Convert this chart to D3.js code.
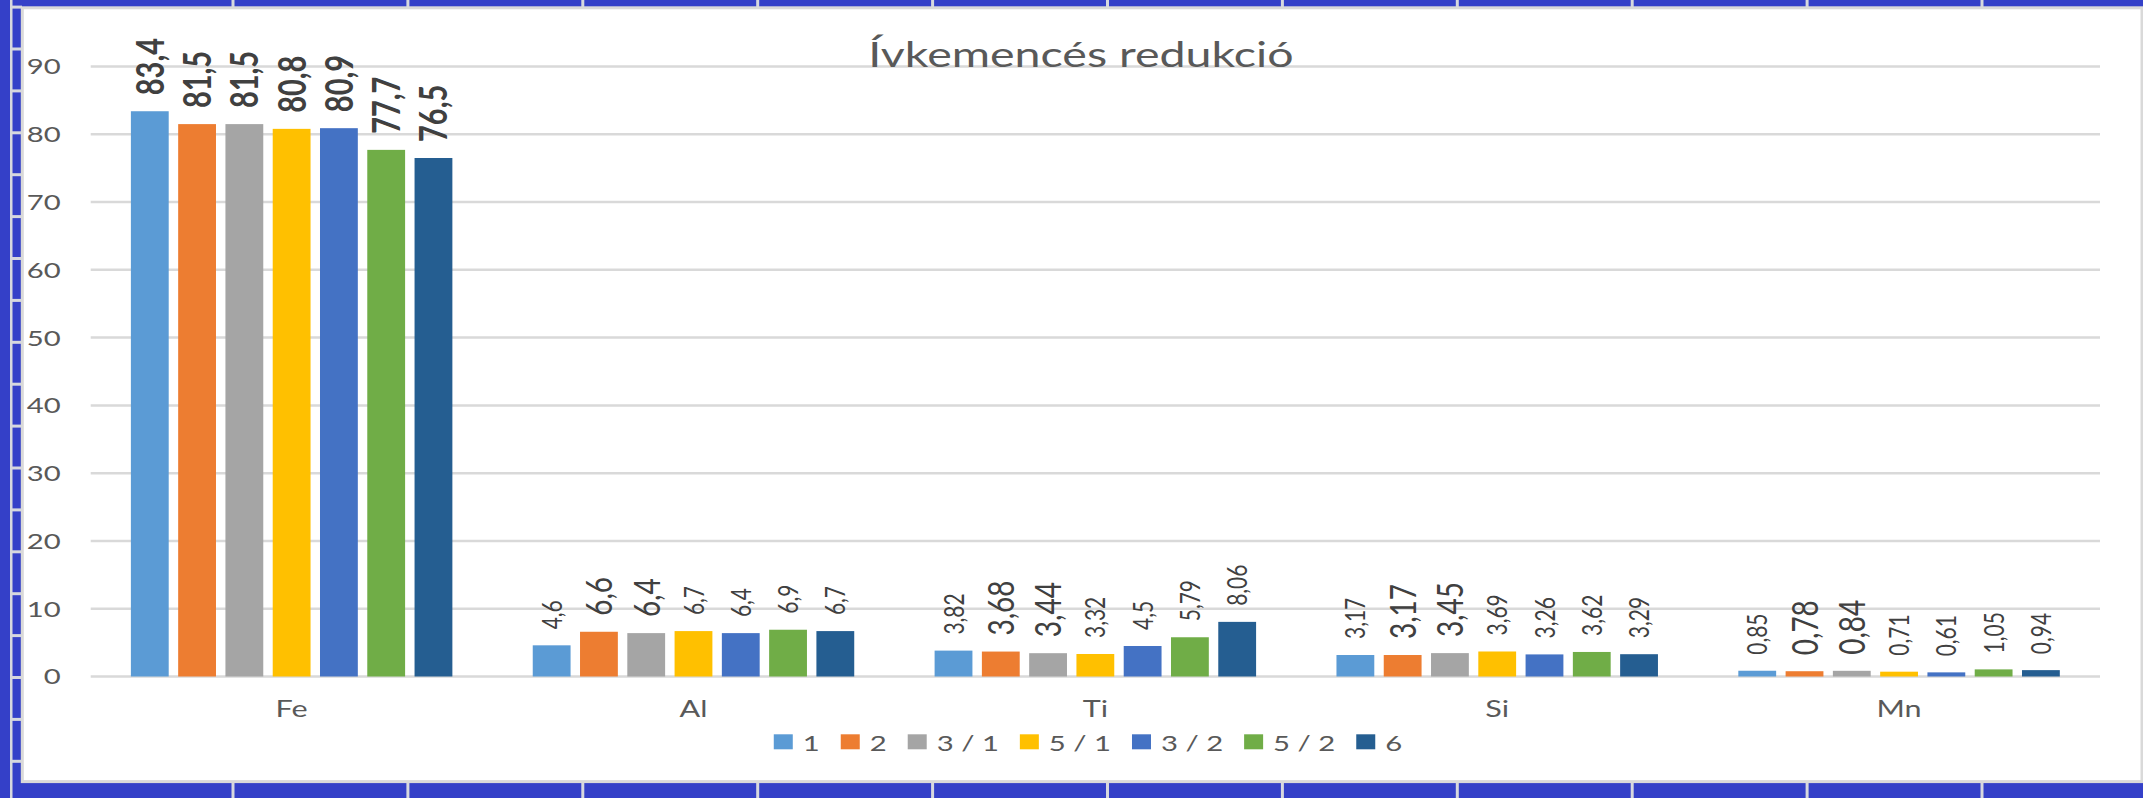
<!DOCTYPE html>
<html>
<head>
<meta charset="utf-8">
<script src="https://cdn.jsdelivr.net/npm/d3@7"></script>
<style>
  html, body { margin: 0; padding: 0; background: #3440c8; }
  svg { display: block; }
  text { font-family: Lato, "Open Sans", sans-serif; }
</style>
</head>
<body>
<div id="chart"></div>
<script>
var categories = ["Fe", "Al", "Ti", "Si", "Mn"];
var seriesNames = ["1", "2", "3 / 1", "5 / 1", "3 / 2", "5 / 2", "6"];
var values_1  = [83.4, 4.6, 3.82, 3.17, 0.85];
var values_2  = [81.5, 6.6, 3.68, 3.17, 0.78];
var values_31 = [81.5, 6.4, 3.44, 3.45, 0.84];
var values_51 = [80.8, 6.7, 3.32, 3.69, 0.71];
var values_32 = [80.9, 6.4, 4.5, 3.26, 0.61];
var values_52 = [77.7, 6.9, 5.79, 3.62, 1.05];
var values_6  = [76.5, 6.7, 8.06, 3.29, 0.94];
var yTicks = [0, 10, 20, 30, 40, 50, 60, 70, 80, 90];
var title = "Ívkemencés redukció";

var seriesValues = [values_1, values_2, values_31, values_51, values_32, values_52, values_6];
var colors = ["#5b9bd5", "#ed7d31", "#a5a5a5", "#ffc000", "#4472c4", "#70ad47", "#255e91"];

var W = 2143, H = 798;
var SX = 1.33;               // picture is stretched horizontally
var bigSeries = ["2", "3 / 1"];

var locale = d3.formatLocale({decimal: ",", thousands: " ", grouping: [3], currency: ["", ""]});
var fmt = locale.format("~g");

var svg = d3.select("#chart").append("svg")
    .attr("width", W)
    .attr("height", H);

//////////////////////////////////////////////////////////////////////
// spreadsheet background
svg.append("rect").attr("width", W).attr("height", H).attr("fill", "#3440c8");
var colLines = d3.range(11).map(function(k) { return 233 + 174.9 * k; });
var rowLines = d3.range(19).map(function(k) { return 7.1 + 41.9 * k; });
var sep = "#d6d8de";
svg.append("rect").attr("x", 10).attr("y", 0).attr("width", 2.5).attr("height", H).attr("fill", sep);
svg.selectAll(".row").data(rowLines).enter().append("rect")
    .attr("x", 12).attr("y", function(d) { return d - 1.5; })
    .attr("width", 10).attr("height", 3).attr("fill", sep);
svg.selectAll(".colTop").data(colLines).enter().append("rect")
    .attr("x", function(d) { return d - 1.5; }).attr("y", 0)
    .attr("width", 3).attr("height", 8).attr("fill", sep);
svg.selectAll(".colBottom").data(colLines).enter().append("rect")
    .attr("x", function(d) { return d - 1.5; }).attr("y", 780)
    .attr("width", 3).attr("height", 18).attr("fill", sep);

// chart area
svg.append("rect")
    .attr("x", 22.3).attr("y", 7.8)
    .attr("width", 2119.7).attr("height", 773.8)
    .attr("fill", "#ffffff")
    .attr("stroke", "#d9d9d9")
    .attr("stroke-width", 3);

//////////////////////////////////////////////////////////////////////
var plotLeft = 90.7, plotRight = 2100;

var x0 = d3.scaleBand()
    .domain(categories)
    .range([plotLeft, plotRight])
    .paddingInner(0.2)
    .paddingOuter(0.1);

var x1 = d3.scaleBand()
    .domain(seriesNames)
    .range([0, x0.bandwidth()])
    .paddingInner(0.2);

var y = d3.scaleLinear()
    .domain([0, 90])
    .range([676.5, 66.5]);

function stretched(sel, x, yy) {
    return sel.attr("transform", "translate(" + x + "," + yy + ") scale(" + SX + ",1)");
}

// gridlines
svg.append("g")
    .selectAll("line")
    .data(yTicks)
    .enter().append("line")
        .attr("x1", plotLeft)
        .attr("x2", plotRight)
        .attr("y1", function(d) { return y(d); })
        .attr("y2", function(d) { return y(d); })
        .attr("stroke", "#d9d9d9")
        .attr("stroke-width", 2.5);

// y tick labels
svg.append("g")
    .selectAll("text")
    .data(yTicks)
    .enter().append("text")
        .each(function(d) { stretched(d3.select(this), 60.7, y(d)); })
        .attr("dy", "0.36em")
        .attr("text-anchor", "end")
        .attr("font-size", 22)
        .attr("fill", "#595959")
        .text(function(d) { return d; });

// category labels
svg.append("g")
    .selectAll("text")
    .data(categories)
    .enter().append("text")
        .each(function(d) { stretched(d3.select(this), x0(d) + x0.bandwidth() / 2, 717); })
        .attr("text-anchor", "middle")
        .attr("font-size", 23)
        .attr("fill", "#595959")
        .text(function(d) { return d; });

// bars
var rows = categories.map(function(cat, ci) {
    return seriesNames.map(function(s, si) {
        return {cat: cat, series: s, color: colors[si], value: seriesValues[si][ci]};
    });
});

var groups = svg.append("g")
    .selectAll("g")
    .data(rows)
    .enter().append("g")
        .attr("transform", function(row) { return "translate(" + x0(row[0].cat) + ",0)"; });

groups.selectAll("rect")
    .data(function(row) { return row; })
    .enter().append("rect")
        .attr("x", function(d) { return x1(d.series); })
        .attr("y", function(d) { return y(d.value); })
        .attr("width", x1.bandwidth())
        .attr("height", function(d) { return y(0) - y(d.value); })
        .attr("fill", function(d) { return d.color; });

// data labels, rotated
groups.selectAll("text")
    .data(function(row) { return row; })
    .enter().append("text")
        .attr("transform", function(d) {
            var cx = x1(d.series) + x1.bandwidth() / 2;
            return "translate(" + cx + "," + (y(d.value) - 16) + ") scale(" + SX + ",1) rotate(-90)";
        })
        .attr("dy", "0.36em")
        .attr("text-anchor", "start")
        .attr("fill", "#404040")
        .attr("font-weight", function(d) { return d.cat === "Fe" ? "bold" : "normal"; })
        .attr("font-size", function(d) {
            if (d.cat === "Fe") return 29;
            return bigSeries.indexOf(d.series) >= 0 ? 28 : 21;
        })
        .text(function(d) { return fmt(d.value); });

// title
svg.append("text")
    .each(function() { stretched(d3.select(this), 1081, 66.7); })
    .attr("text-anchor", "middle")
    .attr("font-size", 35)
    .attr("fill", "#595959")
    .text(title);

// legend
var legend = svg.append("g");
var cursor = 0;
var itemGap = 21;
seriesNames.forEach(function(s, i) {
    var item = legend.append("g").attr("transform", "translate(" + cursor + ",0)");
    item.append("rect")
        .attr("x", 0).attr("y", 734.3)
        .attr("width", 19).attr("height", 15)
        .attr("fill", colors[i]);
    var t = item.append("text")
        .each(function() { stretched(d3.select(this), 29, 750.7); })
        .attr("font-size", 22)
        .attr("fill", "#595959")
        .text(s);
    cursor += 29 + t.node().getComputedTextLength() * SX + itemGap;
});
var legendWidth = cursor - itemGap;
legend.attr("transform", "translate(" + (1088 - legendWidth / 2) + ",0)");
</script>
</body>
</html>
